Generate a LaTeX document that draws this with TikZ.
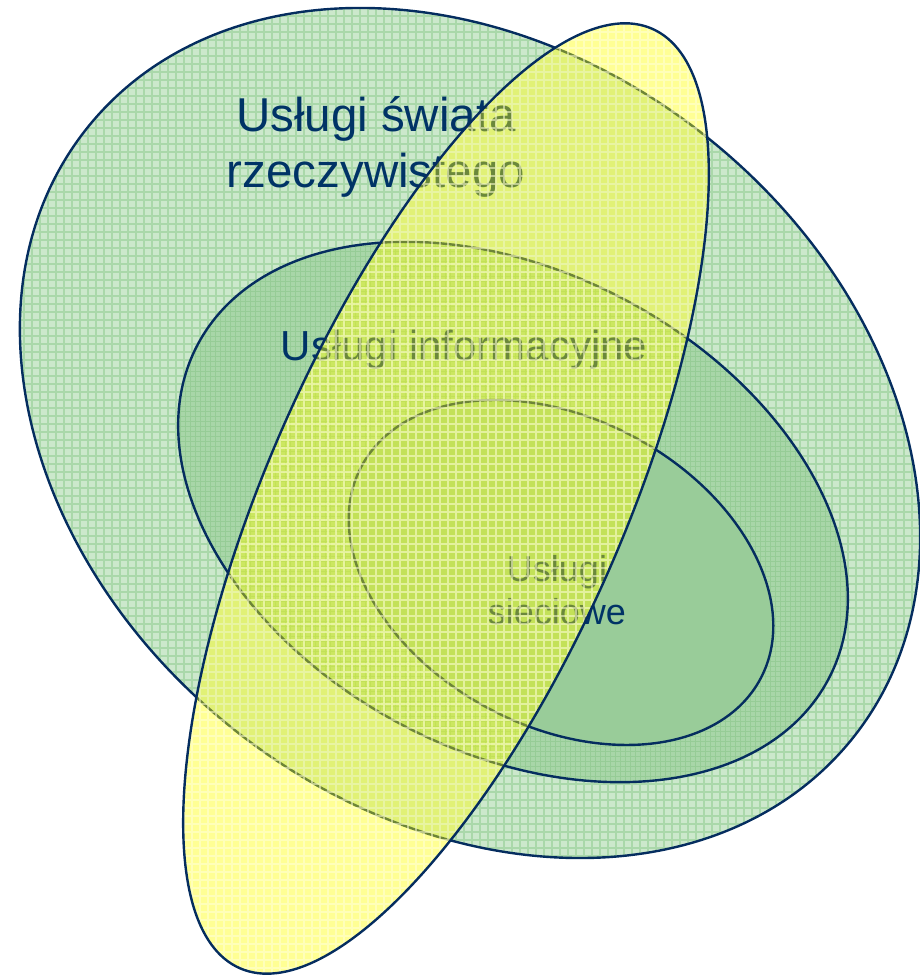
\documentclass[tikz,border=0pt]{standalone}
\usepackage{fontspec}
\setmainfont{Liberation Sans}
\definecolor{navy}{RGB}{5,45,95}
\definecolor{txt}{RGB}{0,51,102}
\definecolor{bigfill}{RGB}{204,232,204}
\definecolor{biggrid}{RGB}{170,216,170}
\definecolor{midfill}{RGB}{168,214,168}
\definecolor{midgrid}{RGB}{150,204,150}
\definecolor{smallfill}{RGB}{153,204,153}
\definecolor{yel}{RGB}{255,255,0}
\definecolor{yelgrid}{RGB}{255,255,215}
\tikzset{
  outline/.style={draw=navy, line width=2.4pt},
  lbl/.style={text=txt, inner sep=0pt, anchor=base},
}
\begin{document}
\begin{tikzpicture}[x=1pt,y=1pt]
\useasboundingbox (0,0) rectangle (919,976);
% big ellipse
\begin{scope}
  \clip[rotate around={-38.4:(470,543)}] (470,543) ellipse [x radius=489.5, y radius=379];
  \fill[bigfill] (0,0) rectangle (919,976);
  \draw[biggrid, line width=1.3pt, step=8] (0,0) grid (919,976);
\end{scope}
\draw[outline, rotate around={-38.4:(470,543)}] (470,543) ellipse [x radius=489.5, y radius=379];
% medium ellipse
\begin{scope}
  \clip[rotate around={-28:(513,464)}] (513,464) ellipse [x radius=357, y radius=240];
  \fill[midfill] (0,0) rectangle (919,976);
  \draw[midgrid, line width=0.8pt, step=5] (0,0) grid (919,976);
\end{scope}
\draw[outline, rotate around={-28:(513,464)}] (513,464) ellipse [x radius=357, y radius=240];
% small ellipse
\draw[outline, fill=smallfill, rotate around={-28:(561,403.5)}] (561,403.5) ellipse [x radius=226, y radius=154];
% texts
\node[lbl, font=\fontsize{47.5}{56}\selectfont] (t1) at (376,844) {Usługi świata};
\node[lbl, font=\fontsize{47.5}{56}\selectfont] (t2) at (376,788) {rzeczywistego};
\node[lbl, font=\fontsize{42}{50}\selectfont] (t3) at (464,615) {Usługi informacyjne};
\node[lbl, font=\fontsize{36}{43}\selectfont] (t4) at (557,394) {Usługi};
\node[lbl, font=\fontsize{36}{43}\selectfont] (t5) at (557,351) {sieciowe};
% yellow ellipse
\begin{scope}
  \clip[rotate around={66.3:(446,477.5)}] (446,477.5) ellipse [x radius=513, y radius=178];
  \fill[yel, opacity=0.42] (0,0) rectangle (919,976);
  \draw[yelgrid, opacity=0.55, line width=1.3pt, step=8] (0,0) grid (919,976);
\end{scope}
\draw[outline, rotate around={66.3:(446,477.5)}] (446,477.5) ellipse [x radius=513, y radius=178];
\end{tikzpicture}
\end{document}
